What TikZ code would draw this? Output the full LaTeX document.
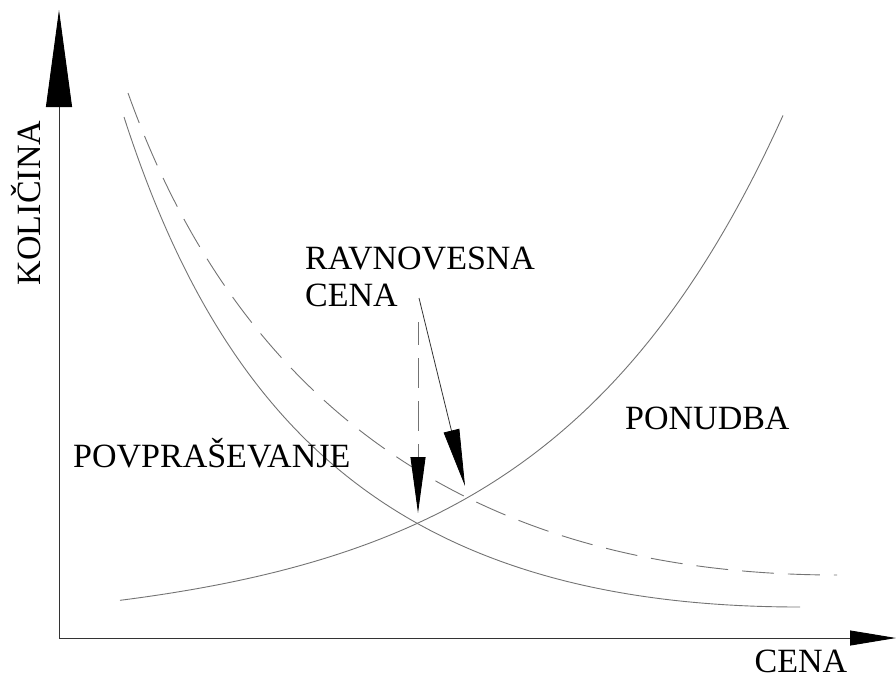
\documentclass[tikz,border=0pt]{standalone}
\usepackage{fontspec}
\setmainfont{Liberation Serif}
\usetikzlibrary{arrows.meta}
\begin{document}
\begin{tikzpicture}[x=1pt,y=-1pt,
  axis/.style={draw=black!80,line width=0.9pt},
  curve/.style={draw=black!55,line width=0.9pt},
  dashcurve/.style={curve,dash pattern=on 32pt off 14pt},
  pointer/.style={draw=black!80,line width=0.8pt},
  lbl/.style={inner sep=0pt,font=\fontsize{34}{40}\selectfont},
]
\useasboundingbox (0,0) rectangle (896,681);

% axes
\coordinate (O) at (59,638);
\coordinate (ytip) at (59,10);
\coordinate (xtip) at (896,638);
\draw[axis,-{Triangle[length=97pt,width=26pt,color=black]}] (O) -- (ytip);
\draw[axis,-{Triangle[length=46pt,width=15pt,color=black]}] (O) -- (xtip);

% supply: exponential rise
\draw[curve] plot[domain=120:783,samples=80,smooth]
  (\x,{630-107*exp(0.0043*(\x-418))});

% demand
\coordinate (dA) at (124,117);
\coordinate (dB) at (800,607);
\draw[curve] (dA) .. controls (224,427) and (400,607) .. (dB);

% shifted demand
\coordinate (eA) at (128,93);
\coordinate (eB) at (837,575);
\draw[dashcurve] (eA) .. controls (228,373) and (440,575) .. (eB);

% labels
\node[lbl,rotate=90,anchor=base] (qty) at (40,203) {KOLIČINA};
\node[lbl,anchor=base,text depth=0pt] (price) at (801,672) {CENA};
\node[lbl,anchor=base west] (eqA) at (305,269) {RAVNOVESNA};
\node[lbl,anchor=base west] (eqB) at (305,306) {CENA};
\node[lbl,anchor=base west] (sup) at (625,429) {PONUDBA};
\node[lbl,anchor=base west] (dem) at (73,467) {POVPRAŠEVANJE};

% equilibrium pointers
\coordinate (dstart) at (418,322);
\coordinate (dtip) at (418,513);
\coordinate (sstart) at (419,298);
\coordinate (stip) at (465,486);
\draw[curve,dash pattern=on 30pt off 13pt,dash phase=7pt,
  -{Triangle[length=56pt,width=15pt,color=black]}] (dstart) -- (dtip);
\draw[pointer,-{Triangle[length=57pt,width=16pt,color=black]}] (sstart) -- (stip);
\end{tikzpicture}
\end{document}
